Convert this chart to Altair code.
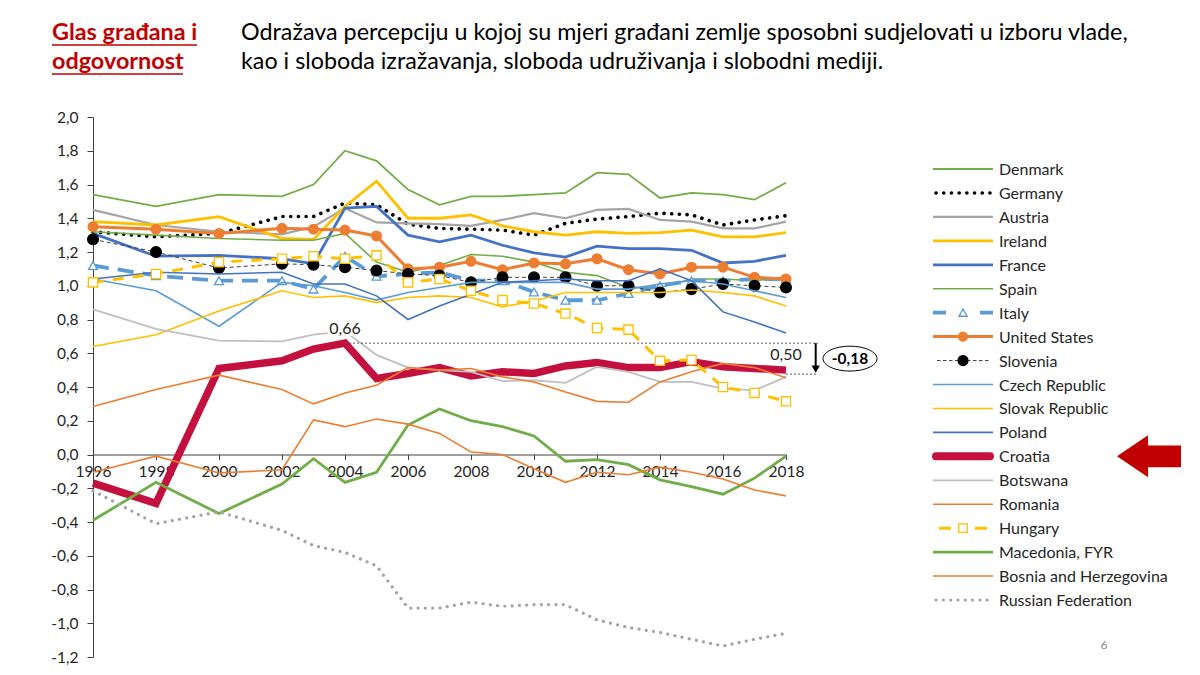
import altair as alt
import pandas as pd

# ---------------- data ----------------
years = [1996, 1998, 2000, 2002, 2003, 2004, 2005, 2006, 2007, 2008, 2009, 2010,
         2011, 2012, 2013, 2014, 2015, 2016, 2017, 2018]

countries = ["Denmark", "Germany", "Austria", "Ireland", "France", "Spain", "Italy",
             "United States", "Slovenia", "Czech Republic", "Slovak Republic", "Poland",
             "Croatia", "Botswana", "Romania", "Hungary", "Macedonia, FYR",
             "Bosnia and Herzegovina", "Russian Federation"]

denmark = [1.54, 1.47, 1.54, 1.53, 1.60, 1.80, 1.74, 1.57, 1.48, 1.53, 1.53, 1.54, 1.55, 1.67, 1.66, 1.52, 1.55, 1.54, 1.51, 1.61]
germany = [1.32, 1.29, 1.31, 1.41, 1.41, 1.49, 1.48, 1.365, 1.34, 1.335, 1.33, 1.30, 1.37, 1.395, 1.41, 1.43, 1.42, 1.36, 1.39, 1.415]
austria = [1.45, 1.36, 1.32, 1.305, 1.35, 1.46, 1.375, 1.37, 1.365, 1.355, 1.39, 1.43, 1.40, 1.45, 1.455, 1.39, 1.38, 1.34, 1.34, 1.38]
ireland = [1.38, 1.36, 1.41, 1.28, 1.275, 1.47, 1.62, 1.40, 1.40, 1.42, 1.355, 1.32, 1.30, 1.32, 1.31, 1.315, 1.33, 1.29, 1.29, 1.315]
france = [1.31, 1.175, 1.18, 1.16, 1.13, 1.46, 1.47, 1.30, 1.26, 1.30, 1.24, 1.195, 1.17, 1.235, 1.22, 1.22, 1.21, 1.135, 1.145, 1.18]
spain = [1.32, 1.30, 1.28, 1.27, 1.27, 1.31, 1.14, 1.08, 1.12, 1.185, 1.175, 1.14, 1.08, 1.06, 0.99, 0.99, 1.04, 1.04, 1.03, 1.05]
italy = [1.12, 1.06, 1.03, 1.03, 0.98, 1.175, 1.056, 1.07, 1.08, 1.03, 1.03, 0.963, 0.914, 0.914, 0.954, 1.00, 1.03, 1.03, 1.04, 1.04]
united_states = [1.35, 1.335, 1.31, 1.34, 1.335, 1.33, 1.295, 1.10, 1.11, 1.145, 1.095, 1.135, 1.13, 1.16, 1.095, 1.07, 1.11, 1.11, 1.05, 1.04]
slovenia = [1.275, 1.20, 1.105, 1.13, 1.125, 1.11, 1.09, 1.07, 1.06, 1.02, 1.05, 1.05, 1.05, 1.00, 1.00, 0.96, 0.98, 1.01, 1.00, 0.99]
czech = [1.04, 0.97, 0.76, 1.02, 1.00, 0.96, 0.915, 0.96, 0.99, 1.02, 1.02, 1.02, 1.02, 0.98, 0.98, 1.01, 1.03, 1.01, 0.97, 0.93]
slovak = [0.64, 0.71, 0.85, 0.97, 0.93, 0.94, 0.90, 0.93, 0.94, 0.93, 0.875, 0.91, 0.96, 0.96, 0.96, 0.96, 0.975, 0.96, 0.94, 0.88]
poland = [1.04, 1.08, 1.07, 1.08, 1.01, 1.01, 0.94, 0.80, 0.88, 0.95, 1.02, 1.03, 1.04, 1.03, 1.03, 1.10, 1.03, 0.845, 0.785, 0.72]
croatia = [-0.17, -0.29, 0.51, 0.555, 0.625, 0.66, 0.45, 0.48, 0.515, 0.465, 0.49, 0.48, 0.525, 0.545, 0.515, 0.515, 0.55, 0.52, 0.51, 0.50]
botswana = [0.86, 0.745, 0.675, 0.67, 0.71, 0.73, 0.59, 0.515, 0.50, 0.49, 0.435, 0.44, 0.425, 0.52, 0.49, 0.43, 0.43, 0.39, 0.38, 0.46]
romania = [0.285, 0.385, 0.47, 0.385, 0.30, 0.365, 0.41, 0.515, 0.50, 0.51, 0.46, 0.43, 0.37, 0.315, 0.31, 0.43, 0.49, 0.54, 0.515, 0.455]
hungary = [1.02, 1.07, 1.14, 1.16, 1.175, 1.16, 1.18, 1.02, 1.04, 0.97, 0.915, 0.895, 0.835, 0.75, 0.74, 0.555, 0.56, 0.40, 0.365, 0.315]
macedonia = [-0.39, -0.165, -0.35, -0.175, -0.025, -0.165, -0.105, 0.175, 0.27, 0.20, 0.165, 0.11, -0.04, -0.03, -0.06, -0.15, -0.19, -0.235, -0.14, -0.01]
bosnia = [-0.105, -0.01, -0.11, -0.09, 0.205, 0.165, 0.21, 0.18, 0.125, 0.015, 0.00, -0.085, -0.165, -0.105, -0.12, -0.075, -0.105, -0.145, -0.21, -0.245]
russia = [-0.215, -0.41, -0.34, -0.45, -0.54, -0.58, -0.66, -0.91, -0.91, -0.875, -0.90, -0.89, -0.89, -0.98, -1.025, -1.055, -1.095, -1.135, -1.095, -1.06]

series = [denmark, germany, austria, ireland, france, spain, italy, united_states, slovenia,
          czech, slovak, poland, croatia, botswana, romania, hungary, macedonia, bosnia, russia]

x_ticks = list(range(1996, 2019, 2))
y_ticks = [round(-1.2 + 0.2 * i, 1) for i in range(17)]

title_lines = ["Glas građana i", "odgovornost"]
desc_lines = ["Odražava percepciju u kojoj su mjeri građani zemlje sposobni sudjelovati u izboru vlade,",
              "kao i sloboda izražavanja, sloboda udruživanja i slobodni mediji."]
peak_label = "0,66"
last_label = "0,50"
diff_label = "-0,18"
page_number = "6"

rows = [{"country": c, "year": y, "value": v}
        for c, vals in zip(countries, series) for y, v in zip(years, vals)]
df = pd.DataFrame(rows)
leg_df = pd.DataFrame({"country": countries})
one = pd.DataFrame({"k": [0]})

# ---------------- styles ----------------
FONT = "Lato"
GREEN, BLUE, LBLUE, GOLD, ORANGE, GRAY = "#70AD47", "#4472C4", "#5B9BD5", "#FFC000", "#ED7D31", "#A5A5A5"
CRO = "#C4103F"
style = {
    "Denmark": dict(color=GREEN, w=1.8),
    "Germany": dict(color="#000000", w=3.6, dash=[0.1, 7.6], cap="round"),
    "Austria": dict(color=GRAY, w=2.2),
    "Ireland": dict(color=GOLD, w=2.8),
    "France": dict(color=BLUE, w=2.8),
    "Spain": dict(color=GREEN, w=1.6),
    "Italy": dict(color=LBLUE, w=3.8, dash=[16, 9], marker="triangle-up", mfill="white", msize=80),
    "United States": dict(color=ORANGE, w=3.0, marker="circle", mfill=ORANGE, msize=95),
    "Slovenia": dict(color="#404040", w=1.0, dash=[4, 3], marker="circle", mfill="#000000", mstroke="#000000", msize=115),
    "Czech Republic": dict(color=LBLUE, w=1.6),
    "Slovak Republic": dict(color=GOLD, w=1.6),
    "Poland": dict(color=BLUE, w=1.6),
    "Croatia": dict(color=CRO, w=7.5),
    "Botswana": dict(color="#BFBFBF", w=1.8),
    "Romania": dict(color=ORANGE, w=1.6),
    "Hungary": dict(color=GOLD, w=3.0, dash=[11, 9], marker="square", mfill="white", msize=85),
    "Macedonia, FYR": dict(color=GREEN, w=2.8),
    "Bosnia and Herzegovina": dict(color=ORANGE, w=1.6),
    "Russian Federation": dict(color=GRAY, w=3.2, dash=[0.1, 7.2], cap="round"),
}
legend_geom = {
    "Germany": dict(x1=843, x2=897),
    "Italy": dict(x1=840, x2=900, dash=[13, 34]),
    "Slovenia": dict(x1=844, x2=896, dash=[3.5, 2.5]),
    "Croatia": dict(x1=843, x2=897, w=8, cap="round"),
    "Hungary": dict(x1=846, x2=894, dash=[12, 24]),
    "Russian Federation": dict(x1=843, x2=897),
}

x_enc = alt.X("year:Q",
              scale=alt.Scale(domain=[1996, 2018], nice=False, zero=False),
              axis=alt.Axis(values=x_ticks, format="d", offset=-202.5, labelFlush=False,
                            tickSize=5, grid=False, title=None, labelFont=FONT,
                            labelFontSize=15.5, labelColor="#262626", labelPadding=5,
                            domainColor="#404040", tickColor="#404040", labelOverlap=False))
y_enc = alt.Y("value:Q",
              scale=alt.Scale(domain=[-1.2, 2.0], nice=False, zero=False),
              axis=alt.Axis(values=y_ticks, grid=False, title=None, tickSize=6,
                            labelExpr="(datum.value < -0.001 ? '-' : '') + replace(format(abs(datum.value), '.1f'), '.', ',')",
                            labelFont=FONT, labelFontSize=15.5, labelColor="#262626",
                            labelPadding=9, domainColor="#404040", tickColor="#404040",
                            labelOverlap=False))

main_layers = []
for name in countries:
    s = style[name]
    base = alt.Chart(df).transform_filter(alt.datum.country == name)
    kw = dict(color=s["color"], strokeWidth=s["w"])
    if "dash" in s:
        kw["strokeDash"] = s["dash"]
    if "cap" in s:
        kw["strokeCap"] = s["cap"]
    main_layers.append(base.mark_line(**kw).encode(x=x_enc, y=y_enc))
    if "marker" in s:
        main_layers.append(base.mark_point(shape=s["marker"], filled=True, fill=s["mfill"],
                                           stroke=s.get("mstroke", s["color"]), strokeWidth=1.3,
                                           size=s["msize"], opacity=1).encode(x=x_enc, y=y_enc))

# annotations for Croatia
i_peak = years.index(2004)
ann_peak = pd.DataFrame({"year": [years[i_peak]], "value": [croatia[i_peak]], "label": [peak_label]})
ann_last = pd.DataFrame({"year": [years[-1]], "value": [croatia[-1]], "label": [last_label]})
ann_diff = pd.DataFrame({"value": [(croatia[i_peak] + croatia[-1]) / 2], "label": [diff_label]})
ann_arrow = pd.DataFrame({"value": [croatia[i_peak]], "value2": [croatia[-1]]})

main_layers += [
    alt.Chart(ann_peak).mark_rule(strokeDash=[2, 2], color="#595959", strokeWidth=1).encode(
        x=x_enc, x2=alt.value(725), y=y_enc),
    alt.Chart(ann_last).mark_rule(strokeDash=[2, 2], color="#595959", strokeWidth=1, yOffset=4).encode(
        x=x_enc, x2=alt.value(725), y=y_enc),
    alt.Chart(ann_arrow).mark_rule(color="#000000", strokeWidth=2).encode(
        x=alt.value(722.7), y=y_enc, y2=alt.Y2("value2")),
    alt.Chart(ann_last).mark_point(shape="triangle-down", filled=True, color="#000000", size=70,
                                   opacity=1, yOffset=-1).encode(x=alt.value(722.7), y=y_enc),
    alt.Chart(ann_peak).mark_text(font=FONT, fontSize=16, dy=-14, stroke="white", strokeWidth=6,
                                  strokeJoin="round", color="white").encode(x=x_enc, y=y_enc, text="label:N"),
    alt.Chart(ann_peak).mark_text(font=FONT, fontSize=16, dy=-14, color="#262626").encode(
        x=x_enc, y=y_enc, text="label:N"),
    alt.Chart(ann_last).mark_text(font=FONT, fontSize=16, dy=-15, color="#262626").encode(
        x=x_enc, y=y_enc, text="label:N"),
    alt.Chart(ann_diff).mark_point(shape="M-1,0 A1,0.46 0 1,1 1,0 A1,0.46 0 1,1 -1,0 Z",
                                   size=54 ** 2, filled=False, color="#000000", strokeWidth=1,
                                   opacity=1, yOffset=2).encode(x=alt.value(757), y=y_enc),
    alt.Chart(ann_diff).mark_text(font=FONT, fontSize=15.5, fontWeight="bold", color="#000000",
                                  yOffset=2).encode(x=alt.value(757), y=y_enc, text="label:N"),
]

# header
title_y = [-77, -48]
for i, line in enumerate(title_lines):
    main_layers.append(alt.Chart(one).mark_text(text=line, align="left", baseline="alphabetic",
                                                font=FONT, fontSize=23.4, fontWeight="bold",
                                                color="#C00000").encode(x=alt.value(-41), y=alt.value(title_y[i])))
underline_x2 = [104, 90]
underline_y = [-72, -43]
for i in range(2):
    main_layers.append(alt.Chart(one).mark_rule(color="#C00000", strokeWidth=1.6).encode(
        x=alt.value(-41), x2=alt.value(underline_x2[i]), y=alt.value(underline_y[i])))
desc_y = [-77, -48]
for i, line in enumerate(desc_lines):
    main_layers.append(alt.Chart(one).mark_text(text=line, align="left", baseline="alphabetic",
                                                font=FONT, fontSize=23.3, color="#000000").encode(
        x=alt.value(148), y=alt.value(desc_y[i])))
main_layers.append(alt.Chart(one).mark_text(text=page_number, font=FONT, fontSize=12,
                                            color="#8C8C8C").encode(x=alt.value(1011), y=alt.value(528)))

main = alt.layer(*main_layers)

# ---------------- legend ----------------
leg_y = alt.Y("country:N", scale=alt.Scale(type="point", domain=countries, range=[52, 483], padding=0),
              axis=None)
leg_layers = []
for name in countries:
    s = style[name]
    g = legend_geom.get(name, {})
    base = alt.Chart(leg_df).transform_filter(alt.datum.country == name)
    kw = dict(color=s["color"], strokeWidth=g.get("w", s["w"]))
    dash = g.get("dash", s.get("dash"))
    if dash:
        kw["strokeDash"] = dash
    cap = g.get("cap", s.get("cap"))
    if cap:
        kw["strokeCap"] = cap
    leg_layers.append(base.mark_rule(**kw).encode(
        x=alt.value(g.get("x1", 840)), x2=alt.value(g.get("x2", 900)), y=leg_y))
    if "marker" in s:
        leg_layers.append(base.mark_point(shape=s["marker"], filled=True, fill=s["mfill"],
                                          stroke=s.get("mstroke", s["color"]), strokeWidth=1.3,
                                          size=s["msize"] * 0.85, opacity=1).encode(x=alt.value(870), y=leg_y))
leg_layers.append(alt.Chart(leg_df).mark_text(align="left", baseline="middle", font=FONT, fontSize=16,
                                              color="#262626", dy=1).encode(
    x=alt.value(906), y=leg_y, text="country:N"))
leg_layers.append(alt.Chart(leg_df).transform_filter(alt.datum.country == "Croatia").mark_point(
    shape="M-1,0 L-0.03,-0.656 L-0.03,-0.34 L1,-0.34 L1,0.34 L-0.03,0.34 L-0.03,0.656 Z",
    size=64 ** 2, filled=True, color="#C00000", opacity=1).encode(x=alt.value(1056), y=leg_y))
legend = alt.layer(*leg_layers)

chart = alt.layer(main, legend).resolve_scale(y="independent").properties(
    width=693, height=540,
    autosize=alt.AutoSizeParams(type="none"),
    padding={"left": 85, "top": 109, "right": 400, "bottom": 10},
    background="white",
).configure_view(stroke=None)

chart.save("out.html", embed_options={"renderer": "svg", "actions": False})
